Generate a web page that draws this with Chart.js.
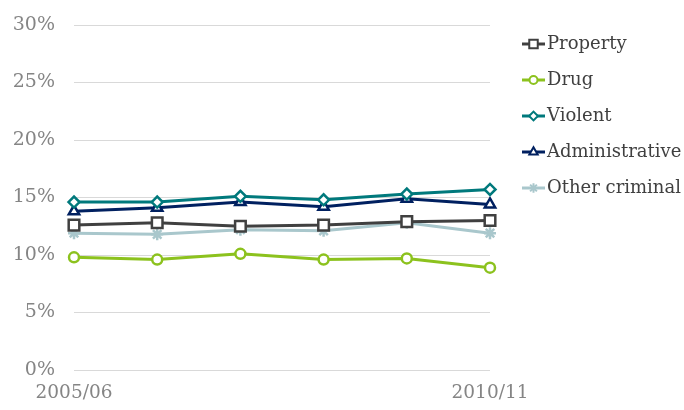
<!DOCTYPE html>
<html>
<head>
    <title>Offence share</title>
    <style>
        body {
            margin: 0;
            background: #ffffff;
        }
        #chart {
            display: block;
        }
    </style>
</head>
<body>
    <canvas id="chart" width="684" height="410"></canvas>

    <script src="https://cdn.jsdelivr.net/npm/chart.js"></script>
    <script>
        const years = ['2005/06', '2006/07', '2007/08', '2008/09', '2009/10', '2010/11'];
        const property = [12.6, 12.8, 12.5, 12.6, 12.9, 13.0];
        const drug = [9.8, 9.6, 10.1, 9.6, 9.7, 8.9];
        const violent = [14.6, 14.6, 15.1, 14.8, 15.3, 15.7];
        const administrative = [13.8, 14.1, 14.6, 14.2, 14.9, 14.4];
        const otherCriminal = [11.9, 11.8, 12.2, 12.1, 12.8, 11.9];
        const yTicks = [0, 5, 10, 15, 20, 25, 30];

        const FONT = '"DejaVu Serif", serif';

        function series(label, data, color, style, radius) {
            return {
                label: label,
                data: data,
                borderColor: color,
                backgroundColor: '#ffffff',
                borderWidth: 3,
                pointStyle: style,
                pointRadius: radius,
                pointBorderWidth: 2.5,
                pointBorderColor: color,
                pointBackgroundColor: '#ffffff',
                tension: 0
            };
        }

        // legend on the right: short line with the marker, then the name
        const sideLegend = {
            id: 'sideLegend',
            afterDraw(chart) {
                const ctx = chart.ctx;
                const x0 = 522, y0 = 44, gap = 36;
                ctx.save();
                chart.data.datasets.forEach((ds, i) => {
                    const y = y0 + i * gap;
                    ctx.strokeStyle = ds.borderColor;
                    ctx.lineWidth = 3;
                    ctx.beginPath();
                    ctx.moveTo(x0, y);
                    ctx.lineTo(x0 + 23, y);
                    ctx.stroke();
                    ctx.fillStyle = '#ffffff';
                    ctx.lineWidth = 2;
                    Chart.helpers.drawPoint(ctx, {
                        pointStyle: ds.pointStyle,
                        radius: ds.pointRadius * 0.8,
                        rotation: 0,
                        borderWidth: 2
                    }, x0 + 11.5, y);
                    ctx.fillStyle = '#404040';
                    ctx.font = '18px ' + FONT;
                    ctx.textAlign = 'left';
                    ctx.textBaseline = 'middle';
                    ctx.fillText(ds.label, x0 + 25, y);
                });
                ctx.restore();
            }
        };

        new Chart(document.getElementById('chart'), {
            type: 'line',
            data: {
                labels: years,
                datasets: [
                    series('Property', property, '#404040', 'rect', 7.5),
                    series('Drug', drug, '#8cc21e', 'circle', 5),
                    series('Violent', violent, '#00797c', 'rectRot', 5.5),
                    series('Administrative', administrative, '#002060', 'triangle', 6),
                    series('Other criminal', otherCriminal, '#a9c7cc', 'star', 6)
                ]
            },
            options: {
                responsive: false,
                animation: false,
                layout: {
                    padding: { top: 25, right: 194, bottom: 0, left: 0 }
                },
                plugins: {
                    legend: { display: false },
                    tooltip: { enabled: false }
                },
                scales: {
                    x: {
                        offset: false,
                        grid: { display: false, drawTicks: false },
                        border: { display: false },
                        afterFit(scale) { scale.height = 40; },
                        ticks: {
                            autoSkip: false,
                            maxRotation: 0,
                            padding: 12,
                            color: '#858585',
                            font: { family: FONT, size: 18.5 },
                            callback(v, i) {
                                return (i === 0 || i === years.length - 1) ? years[i] : '';
                            }
                        }
                    },
                    y: {
                        min: 0,
                        max: 30,
                        afterBuildTicks(scale) {
                            scale.ticks = yTicks.map(v => ({ value: v }));
                        },
                        afterFit(scale) {
                            scale.width = 74;
                            scale.paddingTop = 0;
                            scale.paddingBottom = 0;
                        },
                        grid: { color: '#d9d9d9', lineWidth: 1, drawTicks: false },
                        border: { display: false },
                        ticks: {
                            padding: 19,
                            color: '#858585',
                            font: { family: FONT, size: 19 },
                            callback(v) { return v + '%'; }
                        }
                    }
                }
            },
            plugins: [sideLegend]
        });
    </script>
</body>
</html>
